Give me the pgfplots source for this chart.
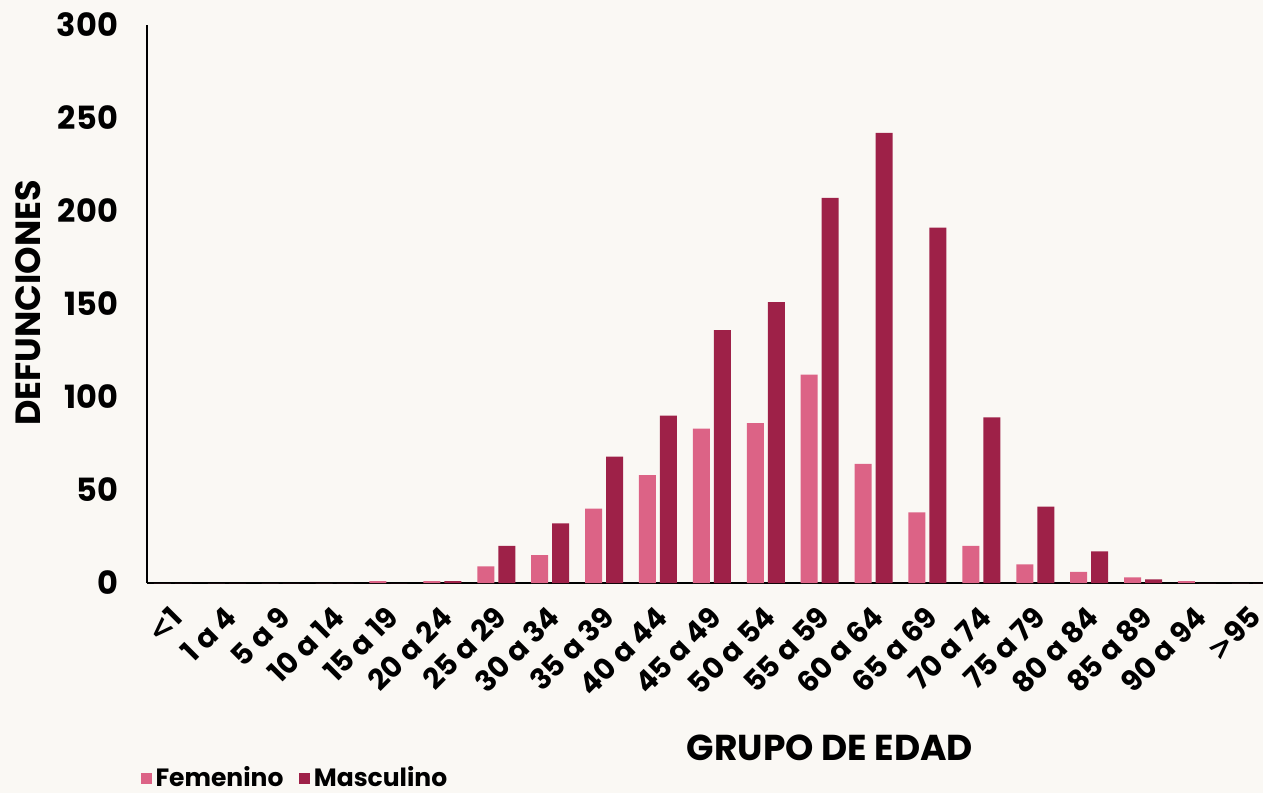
\documentclass[border=0pt]{standalone}
\usepackage{fontspec}
\setmainfont{Poppins}
\newfontfamily\dv{DejaVu Sans}
\usepackage{pgfplots}
\pgfplotsset{compat=1.18}
\definecolor{fem}{HTML}{DC6386}
\definecolor{masc}{HTML}{9E2148}
\definecolor{bg}{HTML}{FAF8F4}

\begin{document}
\begin{tikzpicture}[font=\fontsize{14}{16}\selectfont\bfseries]
\fill[bg] (-73.5pt,-105pt) rectangle (558pt,291.5pt);
\begin{axis}[
  at={(0,0)}, anchor=south west,
  scale only axis, width=558pt, height=279pt,
  ybar=2pt, bar width=8.5pt,
  xmin=-0.48, xmax=20.225, ymin=0, ymax=300,
  axis lines=left, axis line style={-, black},
  x axis line style={line width=1pt},
  y axis line style={line width=0.7pt},
  major tick length=0pt,
  xtick={0,...,20},
  xticklabels={{\dv <}1,1 a 4,5 a 9,10 a 14,15 a 19,20 a 24,25 a 29,30 a 34,35 a 39,40 a 44,45 a 49,50 a 54,55 a 59,60 a 64,65 a 69,70 a 74,75 a 79,80 a 84,85 a 89,90 a 94,{\dv >}95},
  xticklabel style={xshift=4.5pt, yshift=-12pt, rotate=45, anchor=east, font=\fontsize{14.5}{16}\selectfont\bfseries},
  ytick={0,50,...,300},
  yticklabel style={xshift=-11pt, font=\fontsize{16}{18}\selectfont\bfseries},
  /pgf/number format/assume math mode=true,
  legend columns=2,
  legend style={at={(-0.011,-0.35)}, anchor=west, draw=none, fill=none,
    font=\fontsize{12.5}{14}\selectfont\bfseries,
    /tikz/every even column/.append style={column sep=6pt}},
  legend image code/.code={\fill[#1] (0pt,-2.6pt) rectangle (5.2pt,2.6pt);},
]
\addplot[fill=fem, draw=none] coordinates {
(0,0) (1,0) (2,0) (3,0) (4,1) (5,1) (6,9) (7,15) (8,40) (9,58) (10,83)
(11,86) (12,112) (13,64) (14,38) (15,20) (16,10) (17,6) (18,3) (19,1) (20,0)};
\addplot[fill=masc, draw=none] coordinates {
(0,0) (1,0) (2,0) (3,0) (4,0) (5,1) (6,20) (7,32) (8,68) (9,90) (10,136)
(11,151) (12,207) (13,242) (14,191) (15,89) (16,41) (17,17) (18,2) (19,0) (20,0)};
\legend{Femenino, Masculino}
\end{axis}
\node[rotate=90, font=\fontsize{17.5}{19}\selectfont\bfseries] at (-59.5pt,140pt) {DEFUNCIONES};
\node[font=\fontsize{18}{20}\selectfont\bfseries] at (341.5pt,-82.5pt) {GRUPO DE EDAD};
\pgfresetboundingbox
\useasboundingbox (-73.5pt,-105pt) rectangle (558pt,291.5pt);
\end{tikzpicture}
\end{document}
